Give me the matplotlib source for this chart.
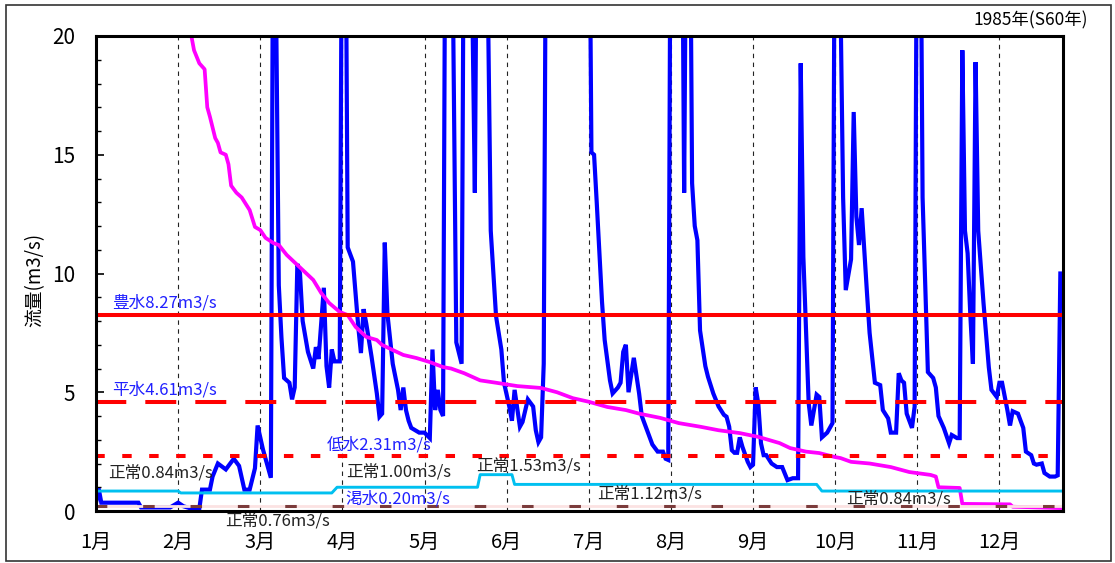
import matplotlib
matplotlib.use("Agg")
import matplotlib.pyplot as plt
from matplotlib.patches import Rectangle
from matplotlib.ticker import MultipleLocator

plt.rcParams["font.family"] = ["Noto Sans CJK JP", "DejaVu Sans"]
plt.rcParams["lines.scale_dashes"] = False

# ---- data -------------------------------------------------------------
months = ["1月", "2月", "3月", "4月", "5月", "6月",
          "7月", "8月", "9月", "10月", "11月", "12月"]
month_step = 31  # tick spacing in days

# daily discharge 1985 (m3/s), values above 20 run off the chart
flow_day = [0, 1, 2, 16, 17, 28, 31, 33, 36, 39, 40, 43, 44, 46, 49, 52, 54, 56, 58, 60,
            61, 63, 66, 67, 68, 69, 70, 71, 73, 74, 75, 76, 77, 78, 80, 82, 83, 84, 86, 87,
            88, 89, 90, 92, 93, 94, 95, 97, 99, 100, 101, 102, 104, 106, 107, 108, 109, 110,
            112, 114, 115, 116, 117, 118, 119, 122, 124, 126, 127, 128, 129, 130, 131, 132,
            134, 136, 138, 139, 141, 143, 144, 147, 149, 151, 153, 154, 156, 157, 158, 160,
            161, 163, 165, 166, 167, 168, 169, 170, 186, 187, 188, 189, 191, 192, 194, 195,
            197, 198, 199, 200, 201, 203, 205, 206, 208, 210, 212, 214, 215, 216, 217, 221,
            222, 223, 224, 225, 226, 227, 228, 230, 231, 233, 235, 237, 238, 239, 240, 241,
            242, 243, 244, 246, 247, 248, 249, 250, 251, 252, 253, 255, 257, 259, 261, 263,
            265, 266, 267, 269, 270, 272, 273, 274, 276, 278, 279, 280, 282, 283, 285, 286,
            287, 288, 289, 291, 292, 294, 296, 297, 299, 300, 302, 303, 304, 305, 306, 308,
            309, 310, 311, 312, 314, 316, 317, 318, 320, 322, 323, 325, 326, 327, 328, 329,
            330, 331, 332, 333, 335, 337, 338, 340, 341, 342, 344, 345, 346, 348, 350, 351,
            353, 354, 355, 357, 358, 360, 362, 363, 364]
flow_val = [0.35, 0.95, 0.35, 0.35, 0.15, 0.15, 0.35, 0.2, 0.1, 0.1, 0.9, 0.9, 1.45, 2.0, 1.75,
            2.2, 1.9, 0.9, 0.9, 1.8, 3.6, 2.6, 1.4, 30, 21, 9.5, 7.3, 5.6, 5.4, 4.7, 5.2, 10.4,
            10.0, 8.0, 6.7, 6.0, 6.9, 6.4, 9.4, 6.1, 5.2, 6.8, 6.3, 6.3, 30, 30, 11.1, 10.5,
            7.75, 6.65, 8.5, 7.9, 6.5, 4.95, 3.97, 4.1, 11.3, 8.3, 6.2, 5.1, 4.25, 5.2, 4.25,
            3.8, 3.5, 3.3, 3.3, 3.07, 6.8, 4.25, 5.1, 4.25, 4.0, 30, 30, 7.1, 6.2, 30, 30, 13.4,
            30, 30, 11.8, 8.2, 6.8, 5.4, 4.4, 3.8, 5.1, 3.55, 3.75, 4.7, 4.4, 3.4, 2.9, 3.1, 6.2,
            30, 30, 15.1, 15.0, 13.0, 8.8, 7.2, 5.5, 4.95, 5.2, 5.4, 6.7, 7.0, 5.0, 6.45, 4.95,
            4.0, 3.4, 2.8, 2.5, 2.5, 2.2, 2.15, 30, 30, 13.4, 30, 30, 13.8, 12.0, 11.4, 7.6, 6.1,
            5.65, 4.95, 4.4, 4.05, 3.97, 3.55, 2.56, 2.45, 2.45, 3.1, 2.7, 2.07, 1.85, 1.95, 5.2,
            4.5, 2.85, 2.35, 2.35, 2.0, 1.85, 1.85, 1.3, 1.38, 1.38, 18.85, 10.7, 4.55, 3.6, 4.9,
            4.8, 3.1, 3.3, 3.7, 30, 30, 13.2, 9.3, 10.6, 16.8, 12.4, 11.2, 12.75, 9.2, 7.5, 5.4,
            5.3, 4.25, 3.9, 3.3, 3.3, 5.8, 5.5, 5.4, 4.1, 3.5, 4.4, 30, 30, 13.2, 5.85, 5.6, 5.2,
            4.0, 3.5, 2.85, 3.2, 3.07, 3.07, 19.4, 11.8, 10.85, 8.3, 6.2, 18.9, 11.8, 8.75, 6.05,
            5.1, 4.8, 5.4, 5.4, 4.25, 3.6, 4.2, 4.1, 3.5, 2.5, 2.35, 2.0, 1.95, 2.0, 1.6, 1.45,
            1.45, 1.5, 10.0]

# flow duration curve (m3/s by rank day)
duration_day = [35, 36, 37, 39, 41, 42, 43, 45, 46, 47, 49, 50, 51, 53, 55, 58, 60, 62, 64, 67,
                69, 72, 74, 78, 82, 85, 88, 92, 95, 98, 102, 106, 108, 112, 116, 121, 126, 131,
                134, 139, 145, 151, 159, 168, 174, 180, 186, 193, 200, 205, 213, 220, 228, 235,
                243, 250, 258, 262, 268, 273, 279, 281, 285, 292, 300, 307, 315, 317, 318, 326,
                327, 345, 346, 365]
duration_val = [21.0, 20.0, 19.4, 18.85, 18.6, 17.0, 16.6, 15.7, 15.5, 15.1, 15.0, 14.6, 13.7,
                13.4, 13.2, 12.67, 11.96, 11.83, 11.5, 11.28, 11.2, 10.78, 10.57, 10.15, 9.73,
                9.18, 8.76, 8.38, 8.25, 7.75, 7.33, 7.2, 6.99, 6.78, 6.57, 6.44, 6.27, 6.06, 6.0,
                5.8, 5.5, 5.4, 5.26, 5.18, 5.0, 4.75, 4.6, 4.38, 4.25, 4.1, 3.92, 3.7, 3.55, 3.4,
                3.28, 3.12, 2.86, 2.65, 2.5, 2.44, 2.27, 2.23, 2.07, 2.0, 1.85, 1.64, 1.52, 1.45,
                1.0, 0.97, 0.3, 0.28, 0.18, 0.12]

# reference discharges
high_flow = 8.27    # 豊水
normal_water = 4.61 # 平水
low_flow = 2.31     # 低水
drought_flow = 0.20 # 渇水

# required (normal) flow by period
normal_start = [0, 32, 91, 145, 158, 274]
normal_end = [31, 89, 144, 157, 272, 365]
normal_val = [0.84, 0.76, 1.00, 1.53, 1.12, 0.84]

# ---- figure -----------------------------------------------------------
W, H = 1115, 563
fig = plt.figure(figsize=(W / 100, H / 100), dpi=100)
ax = fig.add_axes([96 / W, 1 - 511 / H, (1063 - 96) / W, (511 - 36) / H])

ax.set_xlim(0, 365)
ax.set_ylim(0, 20)

# month grid
for i in range(1, len(months)):
    ax.axvline(i * month_step, color="#222222", lw=0.8, linestyle=(0, (3.2, 3.2)), zorder=1)

# daily flow
ax.plot(flow_day, flow_val, color="#0000ff", lw=3.0, zorder=2, solid_joinstyle="miter")

# duration curve
ax.plot(duration_day, duration_val, color="#ff00ff", lw=2.7, zorder=3)

# normal flow steps
nx, ny = [], []
for s, e, v in zip(normal_start, normal_end, normal_val):
    nx += [s, e]
    ny += [v, v]
ax.plot(nx, ny, color="#00c0f0", lw=2.1, zorder=3)

# reference levels
ax.axhline(drought_flow, color="#fbe2e2", lw=2.0, zorder=3)
ax.axhline(drought_flow, color="#7b3b3b", lw=2.2, linestyle=(0.5, (8.3, 25.8)), zorder=3.5)
ax.axhline(low_flow, color="#ff0000", lw=2.9, linestyle=(0.5, (6.8, 12.6)), zorder=4)
ax.axhline(normal_water, color="#ff0000", lw=2.9, linestyle=(0.5, (22.3, 13.7)), zorder=4)
ax.axhline(high_flow, color="#ff0000", lw=2.9, zorder=4)

blue_txt = "#2020ff"
fs = 12
ax.text(6, high_flow + 0.5, f"豊水{high_flow:.2f}m3/s", color=blue_txt, fontsize=fs, va="center", zorder=6)
ax.text(6, normal_water + 0.48, f"平水{normal_water:.2f}m3/s", color=blue_txt, fontsize=fs, va="center", zorder=6)
ax.text(87, low_flow + 0.47, f"低水{low_flow:.2f}m3/s", color=blue_txt, fontsize=fs, va="center", zorder=6)
ax.text(94, drought_flow + 0.3, f"渇水{drought_flow:.2f}m3/s", color=blue_txt, fontsize=fs, va="center", zorder=6)

normal_label_pos = [(4.5, 1.6), (48.7, -0.42), (94.3, 1.64), (143.4, 1.9), (189, 0.72), (283, 0.5)]
for (lx, ly), v in zip(normal_label_pos, normal_val):
    ax.text(lx, ly, f"正常{v:.2f}m3/s", color="#222222", fontsize=fs, va="center",
            zorder=6, clip_on=False)

# axes styling
for side in ["left", "top", "bottom", "right"]:
    ax.spines[side].set_linewidth(2.2)
    ax.spines[side].set_color("black")
    ax.spines[side].set_zorder(7)

ax.set_xticks([i * month_step for i in range(len(months))])
ax.set_xticklabels(months, fontsize=14.5)
ax.tick_params(axis="x", length=0, pad=15)
ax.yaxis.set_major_locator(MultipleLocator(5))
ax.yaxis.set_minor_locator(MultipleLocator(1))
ax.tick_params(axis="y", which="major", direction="in", length=6, width=1.2, labelsize=15, pad=15)
ax.tick_params(axis="y", which="minor", direction="in", length=3.5, width=1.0)

fig.text(35 / W, 1 - 280 / H, "流量(m3/s)", rotation=90, ha="center", va="center", fontsize=13.5)
fig.text(1088 / W, 1 - 20 / H, "1985年(S60年)", ha="right", va="center", fontsize=12.5)

fig.patches.append(Rectangle((6 / W, 1 - 561 / H), (1111 - 6) / W, (561 - 5) / H,
                             transform=fig.transFigure, fill=False, edgecolor="#333333", lw=1.2))

fig.savefig("out.png", dpi=100)
